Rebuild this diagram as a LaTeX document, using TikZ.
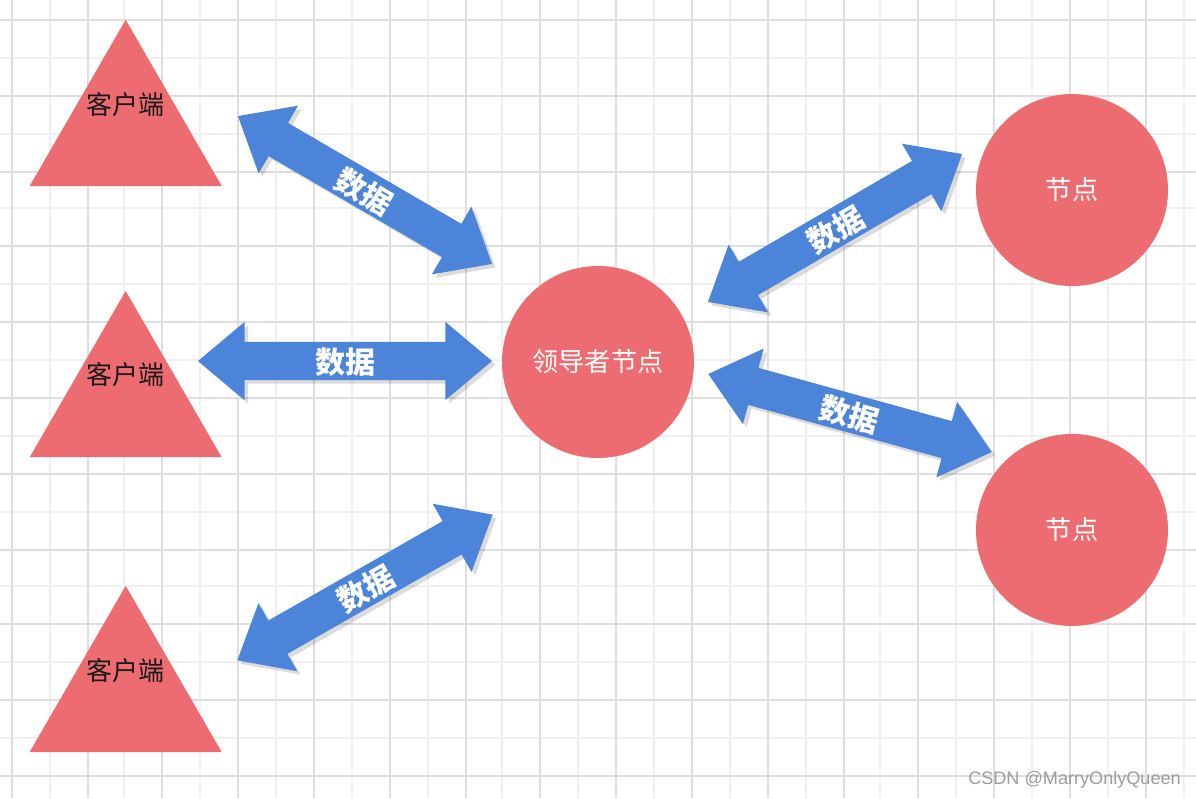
\documentclass[tikz,border=0pt]{standalone}
\usepackage{fontspec}
\usepackage{tikz}
\usetikzlibrary{shapes.geometric,shapes.arrows,shadows}
\newfontfamily\cjk{Noto Sans CJK SC}
\setmainfont{Liberation Sans}
\definecolor{nodered}{HTML}{ED6C71}
\definecolor{arrowblue}{HTML}{4C84DA}
\definecolor{gridmajor}{HTML}{DEDEDE}
\definecolor{gridminor}{HTML}{F0F0F0}
\begin{document}
\begin{tikzpicture}[x=1pt,y=-1pt,
    client node/.style={regular polygon,regular polygon sides=3,fill=nodered,minimum size=221.7pt,inner sep=0pt},
    server node/.style={circle,fill=nodered,minimum size=192pt,inner sep=0pt,text=white,font=\cjk\fontsize{26.2}{26.2}\selectfont},
    client text/.style={text=black!90,font=\cjk\fontsize{26}{26}\selectfont},
    data arrow/.style={double arrow,fill=arrowblue,minimum height=294pt,minimum width=78pt,inner sep=0pt,
        text height=31.9pt,text depth=6.1pt,
        double arrow head extend=20pt,double arrow tip angle=80,double arrow head indent=0pt,
        text=white,font=\cjk\bfseries\fontsize{30}{30}\selectfont,
        copy shadow={shadow xshift=3.5pt,shadow yshift=-3.5pt,fill=black,opacity=0.14,draw=none}}]
    \useasboundingbox (0,0) rectangle (1196,798);

    \fill[white] (0,0) rectangle (1196,798);
    \foreach \x in {50,124,200,276,352,428,502,578,654,730,806,880,956,1032,1108,1184}
        \draw[gridminor,line width=2pt] (\x,0) -- (\x,798);
    \foreach \y in {58,134,208,284,360,436,512,586,662,738}
        \draw[gridminor,line width=2pt] (0,\y) -- (1196,\y);
    \foreach \x in {12,88,162,238,314,390,466,540,616,692,768,844,918,994,1070,1146}
        \draw[gridmajor,line width=2pt] (\x,0) -- (\x,798);
    \foreach \y in {20,96,172,246,322,398,474,550,624,700,776}
        \draw[gridmajor,line width=2pt] (0,\y) -- (1196,\y);

    \node[client node] (1) at (125.7,130.6) {};
    \node[client node] (2) at (125.7,401.8) {};
    \node[client node] (3) at (125.7,696.6) {};
    \node[client text] (t1) at (125,104.5) {客户端};
    \node[client text] (t2) at (125,374.5) {客户端};
    \node[client text] (t3) at (125,670.5) {客户端};

    \node[server node] (4) at (598,362) {领导者节点};
    \node[server node] (5) at (1072,190) {\raisebox{-1pt}{节点}};
    \node[server node] (6) at (1072,530) {\raisebox{-1pt}{节点}};

    \node[data arrow,rotate=-30.2] (a1) at (365,190) {数据};
    \node[data arrow] (a2) at (345,361) {数据};
    \node[data arrow,rotate=29.7] (a3) at (365,587.5) {数据};
    \node[data arrow,rotate=30.2] (a4) at (835,228) {数据};
    \node[data arrow,rotate=-15.4] (a5) at (850,413) {数据};

    \node[text=black!45,opacity=0.85,font=\fontsize{18.1}{18.1}\selectfont] (w) at (1074.5,780) {CSDN @MarryOnlyQueen};
\end{tikzpicture}
\end{document}
